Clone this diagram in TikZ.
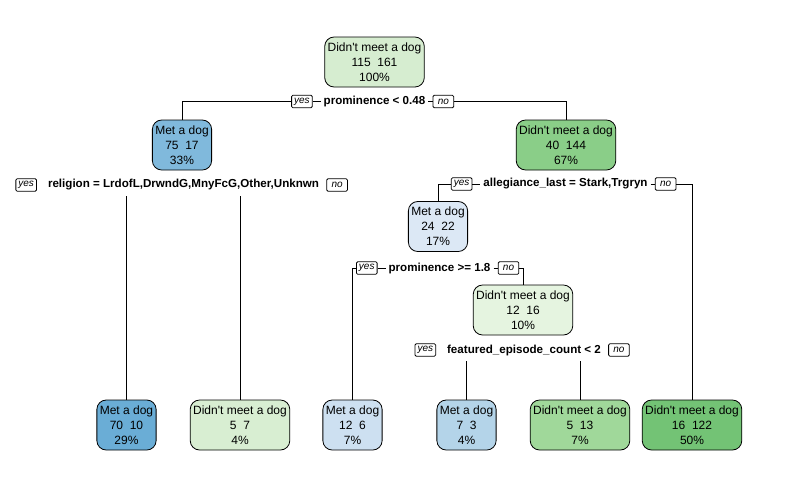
\documentclass[tikz,border=0pt]{standalone}
\usepackage{fontspec}
\setmainfont{Liberation Sans}
\usetikzlibrary{positioning}
\definecolor{gA}{HTML}{D6EDD0}
\definecolor{gB}{HTML}{8ACE88}
\definecolor{gC}{HTML}{E5F4E0}
\definecolor{gD}{HTML}{D8EED2}
\definecolor{gE}{HTML}{A0D89A}
\definecolor{gF}{HTML}{73C375}
\definecolor{bA}{HTML}{80B9DC}
\definecolor{bB}{HTML}{DCE8F5}
\definecolor{bC}{HTML}{6AADD6}
\definecolor{bD}{HTML}{CDE0F1}
\definecolor{bE}{HTML}{B4D4E9}
\newcommand{\nomet}{Didn\textquotesingle t meet a dog}
\begin{document}
\begin{tikzpicture}[x=0.75pt,y=-0.75pt,line width=0.6pt,
  treebox/.style={draw,rectangle,rounded corners=7pt,align=center,font=\fontsize{9}{11.25}\selectfont,minimum height=37.5pt,inner xsep=2.2pt,inner ysep=1pt},
  splittext/.style={font=\fontsize{8.7}{10.5}\selectfont\bfseries,inner sep=2pt},
  tagbox/.style={draw,rectangle,rounded corners=1pt,font=\fontsize{7.5}{8}\selectfont\itshape,inner sep=0.5pt,minimum width=15.5pt,minimum height=9.5pt}]
\useasboundingbox (0,0) rectangle (787,486);

% inner nodes
\node[treebox,fill=gA] (root) at (374.5,62) {\nomet\\115\ \ 161\\100\%};
\node[treebox,fill=bA] (metA) at (182,145) {Met a dog\\75\ \ 17\\33\%};
\node[treebox,fill=gB] (notA) at (566,145) {\nomet\\40\ \ 144\\67\%};
\node[treebox,fill=bB] (metB) at (438,226.5) {Met a dog\\24\ \ 22\\17\%};
\node[treebox,fill=gC] (notB) at (523,310) {\nomet\\12\ \ 16\\10\%};

% leaves
\node[treebox,fill=bC] (leafA) at (126.5,425) {Met a dog\\70\ \ 10\\29\%};
\node[treebox,fill=gD] (leafB) at (240,425) {\nomet\\5\ \ 7\\4\%};
\node[treebox,fill=bD] (leafC) at (352.5,425) {Met a dog\\12\ \ 6\\7\%};
\node[treebox,fill=bE] (leafD) at (466.5,425) {Met a dog\\7\ \ 3\\4\%};
\node[treebox,fill=gE] (leafE) at (580,425) {\nomet\\5\ \ 13\\7\%};
\node[treebox,fill=gF] (leafF) at (692,425) {\nomet\\16\ \ 122\\50\%};

% split labels
\node[splittext] (splitA) at (374.5,101.5) {prominence < 0.48};
\node[tagbox,left=6pt of splitA] (yesA) {yes};
\node[tagbox,right=3.2pt of splitA] (noA) {no};

\node[splittext] (splitB) at (183.5,185) {religion = LrdofL,DrwndG,MnyFcG,Other,Unknwn};
\node[tagbox,left=6pt of splitB] (yesB) {yes};
\node[tagbox,right=3.2pt of splitB] (noB) {no};

\node[splittext] (splitC) at (565.5,184) {allegiance\_last = Stark,Trgryn};
\node[tagbox,left=6pt of splitC] (yesC) {yes};
\node[tagbox,right=3.2pt of splitC] (noC) {no};

\node[splittext] (splitD) at (439.5,268) {prominence >= 1.8};
\node[tagbox,left=6pt of splitD] (yesD) {yes};
\node[tagbox,right=3.2pt of splitD] (noD) {no};

\node[splittext] (splitE) at (524,350) {featured\_episode\_count < 2};
\node[tagbox,left=6pt of splitE] (yesE) {yes};
\node[tagbox,right=3.2pt of splitE] (noE) {no};

% connectors
\draw (yesA.west) -| (metA.north);
\draw (yesA.east) -- (splitA.west);
\draw (splitA.east) -- (noA.west);
\draw (noA.east) -| (notA.north);

\draw ([yshift=-2pt]leafA.north |- splitB.south) -- (leafA.north);
\draw ([yshift=-2pt]leafB.north |- splitB.south) -- (leafB.north);

\draw (yesC.west) -| (metB.north);
\draw (yesC.east) -- (splitC.west);
\draw (splitC.east) -- (noC.west);
\draw (noC.east) -| (leafF.north);

\draw (yesD.west) -| (leafC.north);
\draw (yesD.east) -- (splitD.west);
\draw (splitD.east) -- (noD.west);
\draw (noD.east) -| (notB.north);

\draw ([yshift=-2pt]leafD.north |- splitE.south) -- (leafD.north);
\draw ([yshift=-2pt]leafE.north |- splitE.south) -- (leafE.north);

\end{tikzpicture}
\end{document}
